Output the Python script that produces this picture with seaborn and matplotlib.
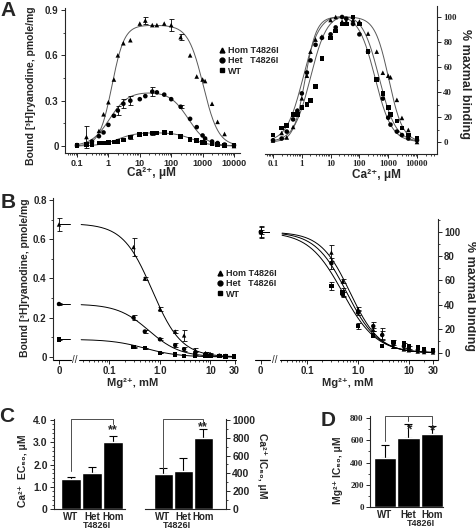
import numpy as np
import pandas as pd
import matplotlib
matplotlib.use("Agg")
import matplotlib.pyplot as plt
import seaborn as sns
from matplotlib.lines import Line2D
from matplotlib.ticker import MultipleLocator, FixedLocator, NullFormatter, LogLocator
from matplotlib.transforms import blended_transform_factory

sns.set_style("ticks")
plt.rcParams['font.family'] = ['Liberation Sans', 'DejaVu Sans']
plt.rcParams['font.weight'] = 'bold'
plt.rcParams['axes.linewidth'] = 0.8

# ---------------- data ----------------
genotypes = ["Hom", "Het", "WT"]
markers = {"Hom": "^", "Het": "o", "WT": "s"}

# panel A: bound [3H]ryanodine (pmole/mg) vs Ca2+ (uM)
ca_um = [0.1, 0.2, 0.3, 0.5, 0.7, 1, 1.5, 2, 3, 5, 10, 15, 25, 35, 60, 100,
         200, 400, 650, 1000, 1200, 2000, 3000, 5000, 10000]
ca_hom = [0.01, 0.06, 0.03, 0.10, 0.21, 0.29, 0.44, 0.60, 0.68, 0.70, 0.81, 0.83, 0.80,
          0.80, 0.81, 0.80, 0.72, 0.60, 0.46, 0.44, 0.43, 0.28, 0.16, 0.08, 0.00]
ca_hom_err = [0, 0.07, 0, 0, 0, 0, 0, 0, 0, 0, 0, 0.025, 0,
              0, 0, 0.04, 0.02, 0, 0, 0, 0, 0, 0, 0, 0]
ca_het = [0.005, 0.01, 0.03, 0.065, 0.09, 0.14, 0.20, 0.235, 0.28, 0.30, 0.31, 0.33, 0.36,
          0.355, 0.34, 0.31, 0.26, 0.18, 0.125, 0.07, 0.05, 0.03, 0.02, 0.01, 0.005]
ca_het_err = [0, 0, 0, 0, 0, 0, 0, 0.03, 0.03, 0.03, 0, 0, 0.03,
              0, 0, 0, 0.01, 0, 0, 0, 0, 0, 0, 0, 0]
ca_wt = [0.005, 0.01, 0.012, 0.02, 0.02, 0.025, 0.027, 0.03, 0.04, 0.06, 0.075, 0.08, 0.085,
         0.085, 0.09, 0.085, 0.065, 0.045, 0.035, 0.025, 0.02, 0.015, 0.01, 0.005, 0.003]
ca_wt_err = [0, 0, 0, 0, 0, 0, 0, 0, 0, 0.015, 0, 0, 0.01,
             0, 0, 0, 0, 0, 0, 0, 0, 0, 0, 0, 0]

# bell-shaped fit parameters (Hom, Het, WT)
ca_fit_bmax = [0.80, 0.36, 0.09]
ca_fit_ec50 = [1.3, 1.1, 2.0]
ca_fit_nact = [2.2, 1.5, 1.5]
ca_fit_ic50 = [1050, 350, 480]
ca_fit_ninh = [1.8, 1.5, 1.5]

# panel B: bound [3H]ryanodine vs Mg2+ (mM)
mg_mm = [0, 0.3, 0.5, 1, 2, 3, 5, 8, 10, 15, 20, 30]
mg_hom = [0.675, 0.56, 0.40, 0.245, 0.13, 0.11, 0.035, 0.02, 0.015, 0.008, 0.005, 0.003]
mg_hom_err = [0.035, 0.045, 0.01, 0.012, 0.01, 0.03, 0.01, 0.005, 0.005, 0, 0, 0]
mg_het = [0.27, 0.20, 0.13, 0.09, 0.06, 0.04, 0.02, 0.015, 0.01, 0.006, 0.005, 0.003]
mg_het_err = [0.005, 0.012, 0.006, 0.005, 0.01, 0.01, 0.01, 0.008, 0.006, 0, 0, 0]
mg_wt = [0.09, 0.05, 0.045, 0.02, 0.013, 0.005, 0.008, 0.007, 0.005, 0.004, 0.003, 0.002]
mg_wt_err = [0.004, 0.003, 0.003, 0.002, 0, 0, 0, 0, 0, 0, 0, 0]

mg_fit_b0 = [0.68, 0.27, 0.09]
mg_fit_ic50 = [0.7, 0.6, 0.5]
mg_fit_n = [1.5, 1.4, 1.3]

# panels C, D: summary bars
groups = ["WT", "Het", "Hom"]
ca_ec50 = [1.35, 1.6, 3.0]
ca_ec50_err = [0.08, 0.3, 0.3]
ca_ic50 = [395, 430, 795]
ca_ic50_err = [65, 140, 100]
mg_ic50 = [438, 619, 652]
mg_ic50_err = [120, 127, 73]

# ---------------- helpers ----------------
W, H = 477, 532
fig = plt.figure(figsize=(W / 100, H / 100), dpi=100)


def box(l, t, r, b):
    return [l / W, 1 - b / H, (r - l) / W, (b - t) / H]


def ftext(px, py, s, **kw):
    fig.text(px / W, 1 - py / H, s, **kw)


def bell(x, bmax, ec50, na, ic50, ni):
    return bmax / (1 + (ec50 / x) ** na) / (1 + (x / ic50) ** ni)


def hill_down(x, b0, ic50, n):
    return b0 / (1 + (x / ic50) ** n)


def spines(ax, side):
    ax.patch.set_visible(False)
    for s in ["top", "left", "right", "bottom"]:
        ax.spines[s].set_visible(s in ("bottom", side))
    ax.spines[side].set_linewidth(0.8)
    if side == "right":
        ax.yaxis.tick_right()
    ax.tick_params(which="major", direction="out", length=3, width=0.7, pad=1.5)
    ax.tick_params(which="minor", direction="out", length=1.6, width=0.6)


def errbars(ax, df, x, y, e):
    d = df[df[e] > 0]
    ax.errorbar(d[x], d[y], yerr=d[e], fmt="none", ecolor="black",
                elinewidth=0.6, capsize=1.8, capthick=0.6, zorder=2)


def broken_bottom(ax, left_end, right_start):
    ax.spines["bottom"].set_visible(False)
    tr = blended_transform_factory(ax.transData, ax.transAxes)
    x0, x1 = ax.get_xlim()
    ax.plot([x0, left_end], [0, 0], transform=tr, color="k", lw=0.8, clip_on=False)
    ax.plot([right_start, x1], [0, 0], transform=tr, color="k", lw=0.8, clip_on=False)
    ax.text(np.sqrt(left_end * right_start), 0, "//", transform=tr, ha="center",
            va="center", fontsize=7, fontweight="normal")


def legend_at(px, py):
    handles = [Line2D([], [], marker=markers[g], ls="none", color="black", markersize=3.5)
               for g in genotypes]
    labels = ["Hom T4826I", "Het   T4826I", "WT"]
    fig.legend(handles, labels, loc="center left", bbox_to_anchor=(px / W, 1 - py / H),
               frameon=False, handlelength=0.6,
               handletextpad=0.4, labelspacing=0.12, borderpad=0, borderaxespad=0,
               prop={"size": 6.5, "weight": "bold"})


# ---------------- panel A ----------------
n = len(ca_um)
ca_df = pd.DataFrame({
    "ca": ca_um * 3,
    "bound": ca_hom + ca_het + ca_wt,
    "err": ca_hom_err + ca_het_err + ca_wt_err,
    "genotype": ["Hom"] * n + ["Het"] * n + ["WT"] * n,
})
ca_df["pct"] = ca_df.groupby("genotype")["bound"].transform(lambda v: v / v.max() * 100)

ca_grid = np.logspace(-1, 4, 300)

axA = fig.add_axes(box(65, 8, 240, 153))
for i, g in enumerate(genotypes):
    yfit = bell(ca_grid, ca_fit_bmax[i], ca_fit_ec50[i], ca_fit_nact[i],
                ca_fit_ic50[i], ca_fit_ninh[i])
    axA.plot(ca_grid, yfit, color="0.35", lw=0.7, zorder=1)
errbars(axA, ca_df, "ca", "bound", "err")
sns.scatterplot(data=ca_df, x="ca", y="bound", style="genotype", markers=markers,
                color="black", s=11, linewidth=0, legend=False, ax=axA, zorder=3)
axA.set_xscale("log")
axA.set_xlim(0.0415, 15530)
axA.set_ylim(-0.046, 0.913)
spines(axA, "left")
axA.set_xticks([0.1, 1, 10, 100, 1000, 10000], labels=["0.1", "1", "10", "100", "1000", "10000"])
axA.xaxis.set_minor_locator(LogLocator(base=10, subs=np.arange(2, 10)))
axA.xaxis.set_minor_formatter(NullFormatter())
axA.set_yticks([0, 0.3, 0.6, 0.9], labels=["0", "0.3", "0.6", "0.9"])
axA.yaxis.set_minor_locator(MultipleLocator(0.15))
axA.tick_params(axis="x", labelsize=6.5)
axA.tick_params(axis="y", labelsize=7)
axA.set_xlabel("")
axA.set_ylabel("")

axA2 = fig.add_axes(box(265, 6, 437, 154))
for i, g in enumerate(genotypes):
    yfit = bell(ca_grid, 1, ca_fit_ec50[i], ca_fit_nact[i], ca_fit_ic50[i], ca_fit_ninh[i])
    axA2.plot(ca_grid, yfit / yfit.max() * 100, color="0.35", lw=0.7, zorder=1)
sns.scatterplot(data=ca_df, x="ca", y="pct", style="genotype", markers=markers,
                color="black", s=11, linewidth=0, legend=False, ax=axA2, zorder=3)
axA2.set_xscale("log")
axA2.set_xlim(0.0527, 49500)
axA2.set_ylim(-9.6, 108.8)
spines(axA2, "right")
axA2.set_xticks([0.1, 1, 10, 100, 1000, 10000],
                labels=["0.1", "1", "10", "100", "1000", "10000"], fontfamily="Liberation Serif")
axA2.xaxis.set_minor_locator(LogLocator(base=10, subs=np.arange(2, 10)))
axA2.xaxis.set_minor_formatter(NullFormatter())
axA2.set_yticks([0, 20, 40, 60, 80, 100], labels=["0", "20", "40", "60", "80", "100"],
                fontfamily="Liberation Serif")
axA2.yaxis.set_minor_locator(MultipleLocator(10))
axA2.tick_params(labelsize=6.5)
axA2.set_xlabel("")
axA2.set_ylabel("")

legend_at(219, 61)
ftext(8, 11, "A", fontsize=15, fontweight="bold", ha="center", va="center")
ftext(31, 86, "Bound [³H]ryanodine, pmole/mg", rotation=90, fontsize=7.5,
      ha="center", va="center")
ftext(151, 173, "Ca²⁺, μM", fontsize=8.5, ha="center", va="center")
ftext(376, 175, "Ca²⁺, μM", fontsize=8.5, ha="center", va="center")
ftext(465, 84, "% maxmal binding", rotation=270, fontsize=9, ha="center", va="center")

# ---------------- panel B ----------------
m = len(mg_mm)
mg_df = pd.DataFrame({
    "mg": mg_mm * 3,
    "bound": mg_hom + mg_het + mg_wt,
    "err": mg_hom_err + mg_het_err + mg_wt_err,
    "genotype": ["Hom"] * m + ["Het"] * m + ["WT"] * m,
})
b0 = mg_df.groupby("genotype")["bound"].transform("first")
mg_df["pct"] = mg_df["bound"] / b0 * 100
mg_df["pct_err"] = mg_df["err"] / b0 * 100

mg_ticks = [0.1, 1, 10, 30]
mg_ticklabels = ["0.1", "1.0", "10", "30"]
mg_minor = [k * 10.0 ** d for d in (-2, -1, 0, 1) for k in range(2, 10)]


def mg_panel(ax, ycol, ecol, zero_pos, brk, xlim, fits):
    d = mg_df.copy()
    d["x"] = d["mg"].where(d["mg"] > 0, zero_pos)
    grid = np.logspace(np.log10(brk[1] * 1.1), np.log10(30), 200)
    for i, g in enumerate(genotypes):
        start = fits(0.0, i)
        ax.plot([zero_pos, brk[0] * 0.95], [start, start], color="k", lw=0.7, zorder=1)
        ax.plot(grid, fits(grid, i), color="k", lw=0.7, zorder=1)
    errbars(ax, d, "x", ycol, ecol)
    sns.scatterplot(data=d, x="x", y=ycol, style="genotype", markers=markers,
                    color="black", s=10, linewidth=0, legend=False, ax=ax, zorder=3)
    ax.set_xscale("log")
    ax.set_xlim(*xlim)
    ax.set_xticks([zero_pos] + mg_ticks, labels=["0"] + mg_ticklabels)
    ax.xaxis.set_minor_locator(FixedLocator([v for v in mg_minor if brk[1] < v < 30]))
    ax.xaxis.set_minor_formatter(NullFormatter())
    ax.set_xlabel("")
    ax.set_ylabel("")


axB = fig.add_axes(box(53, 198, 236, 360))
axB.set_ylim(-0.0153, 0.81)
mg_panel(axB, "bound", "err", 0.01, (0.0173, 0.025), (0.00761, 32.0),
         lambda x, i: hill_down(x, mg_fit_b0[i], mg_fit_ic50[i], mg_fit_n[i]))
spines(axB, "left")
axB.set_yticks([0, 0.2, 0.4, 0.6, 0.8], labels=["0", "0.2", "0.4", "0.6", "0.8"])
axB.yaxis.set_minor_locator(MultipleLocator(0.1))
axB.tick_params(labelsize=7)
broken_bottom(axB, 0.0173, 0.025)

axB2 = fig.add_axes(box(255, 219, 438, 360))
axB2.set_ylim(-5.8, 110.7)
mg_panel(axB2, "pct", "pct_err", 0.0122, (0.0185, 0.0292), (0.0094, 37.6),
         lambda x, i: hill_down(x, 100, mg_fit_ic50[i], mg_fit_n[i]))
spines(axB2, "right")
axB2.set_yticks([0, 20, 40, 60, 80, 100], labels=["0", "20", "40", "60", "80", "100"])
axB2.yaxis.set_minor_locator(MultipleLocator(10))
axB2.tick_params(labelsize=7)
broken_bottom(axB2, 0.0185, 0.0292)

legend_at(217, 284)
ftext(8, 202, "B", fontsize=15, fontweight="bold", ha="center", va="center")
ftext(25, 278, "Bound [³H]ryanodine, pmole/mg", rotation=90, fontsize=7.5,
      ha="center", va="center")
ftext(470, 296, "% maxmal binding", rotation=270, fontsize=9, ha="center", va="center")
ftext(133, 383, "Mg²⁺, mM", fontsize=8, ha="center", va="center")
ftext(348, 383, "Mg²⁺, mM", fontsize=8, ha="center", va="center")


# ---------------- panels C, D ----------------
def bar_panel(ax, vals, errs, side, xlim, ylim, ticks, minor, tick_font=None):
    sns.barplot(x=groups, y=vals, color="black", width=0.95, saturation=1, ax=ax, zorder=2)
    ax.errorbar(range(3), vals, yerr=[[0] * 3, errs], fmt="none", ecolor="black",
                elinewidth=0.8, capsize=3, capthick=0.8, zorder=1)
    ax.set_xlim(*xlim)
    ax.set_ylim(*ylim)
    spines(ax, side)
    kw = {"fontfamily": tick_font} if tick_font else {}
    ax.set_yticks(ticks[0], labels=ticks[1], **kw)
    ax.yaxis.set_minor_locator(MultipleLocator(minor))
    ax.tick_params(axis="x", length=0, labelsize=7, pad=2)
    ax.tick_params(axis="y", labelsize=7.5)
    ax.set_xlabel("")
    ax.set_ylabel("")


def bracket(ax, x0, y0, x1, y1, ytop, mids=()):
    kw = dict(color="0.3", lw=0.7, clip_on=False, zorder=4)
    ax.plot([x0, x0, x1, x1], [y0, ytop, ytop, y1], **kw)
    for xm, ym in mids:
        ax.plot([xm, xm], [ytop, ym], **kw)


def mutant_tag(ax, x, py_center, ax_bottom_px, ax_height_px):
    ax.text(x, -(py_center - ax_bottom_px) / ax_height_px, "T4826I", ha="center",
            va="center", fontsize=6.5,
            transform=blended_transform_factory(ax.transData, ax.transAxes))


axC = fig.add_axes(box(54, 419, 125, 509))
bar_panel(axC, ca_ec50, ca_ec50_err, "left", (-0.81, 2.57), (0, 4.045),
          ([0, 1, 2, 3, 4], ["0", "1.0", "2.0", "3.0", "4.0"]), 0.2)
bracket(axC, 0, 1.7, 2, 3.8, 4.05)
axC.text(2, 3.55, "**", ha="center", va="center", fontsize=9)
mutant_tag(axC, 1.25, 526, 509, 90)

axC2 = fig.add_axes(box(145, 419, 226, 509))
bar_panel(axC2, ca_ic50, ca_ic50_err, "right", (-0.9, 3.15), (0, 1011),
          ([0, 200, 400, 600, 800, 1000], ["0", "200", "400", "600", "800", "1000"]), 100)
bracket(axC2, 0, 465, 2, 945, 1012)
axC2.text(2, 915, "**", ha="center", va="center", fontsize=9)
mutant_tag(axC2, 0.7, 526, 509, 90)

axD = fig.add_axes(box(370, 416, 443, 507))
bar_panel(axD, mg_ic50, mg_ic50_err, "left", (-0.64, 2.47), (0, 818),
          ([0, 200, 400, 600, 800], ["0", "200", "400", "600", "800"]), 100,
          tick_font="Liberation Serif")
axD.tick_params(axis="y", labelsize=6.5)
bracket(axD, 0, 590, 2, 750, 818, mids=[(1, 770)])
axD.text(1, 700, "*", ha="center", va="center", fontsize=10)
axD.text(2, 685, "*", ha="center", va="center", fontsize=10)
mutant_tag(axD, 1.55, 524, 507, 91)

ftext(7, 416, "C", fontsize=15, fontweight="bold", ha="center", va="center")
ftext(328, 420, "D", fontsize=15, fontweight="bold", ha="center", va="center")
ftext(23, 471, "Ca²⁺  EC₅₀, μM", rotation=90, fontsize=7.5, ha="center", va="center")
ftext(262, 466, "Ca²⁺ IC₅₀, μM", rotation=270, fontsize=7.5, ha="center", va="center")
ftext(338, 470, "Mg²⁺ IC₅₀, μM", rotation=90, fontsize=7.5, ha="center", va="center")

fig.savefig("out.png", dpi=100)
